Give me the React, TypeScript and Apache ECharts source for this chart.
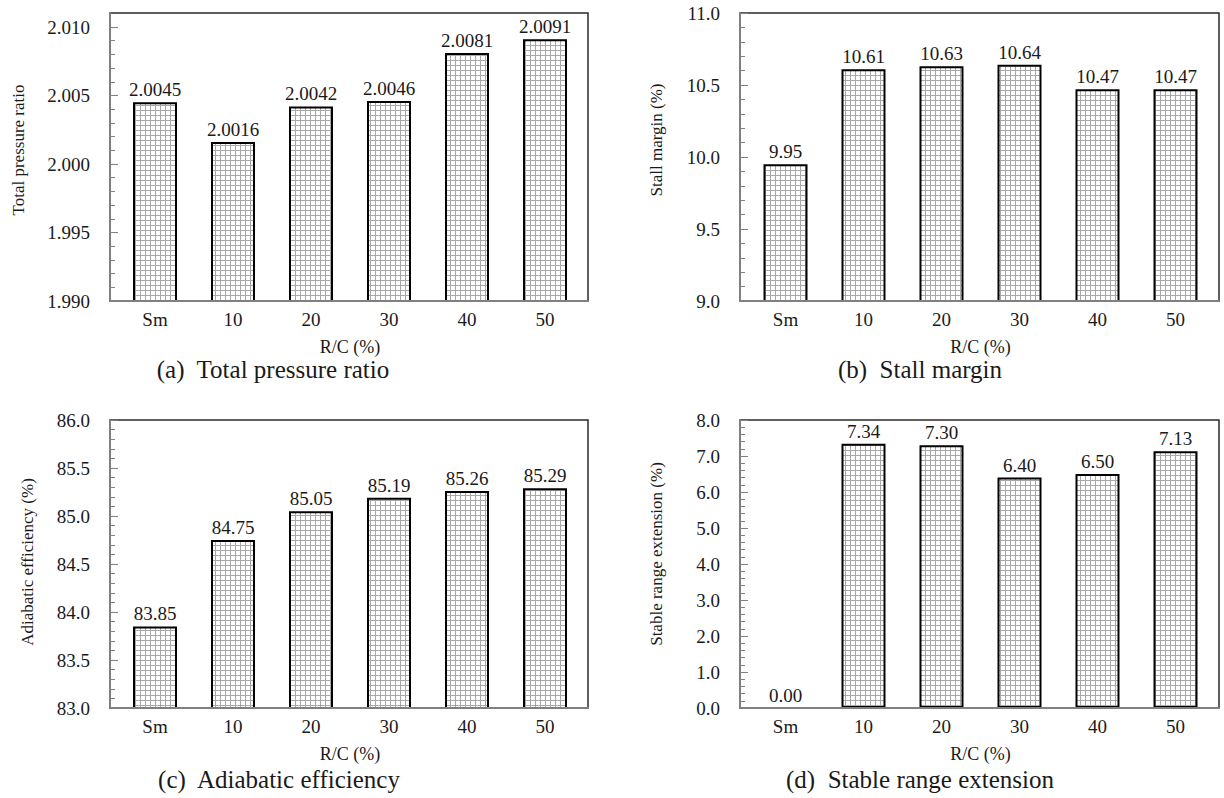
import React, { useEffect, useRef } from "react";
import * as echarts from "echarts";

// ---------- data ----------
const categories = ["Sm", "10", "20", "30", "40", "50"];
const pressureRatio = [2.0045, 2.0016, 2.0042, 2.0046, 2.0081, 2.0091];
const stallMargin = [9.95, 10.61, 10.63, 10.64, 10.47, 10.47];
const adiabaticEfficiency = [83.85, 84.75, 85.05, 85.19, 85.26, 85.29];
const stableRangeExtension = [0.0, 7.34, 7.3, 6.4, 6.5, 7.13];

// axis ranges: [min, max, interval]
const pressureAxis = [1.99, 2.01, 0.005];
const stallAxis = [9.0, 11.0, 0.5];
const efficiencyAxis = [83.0, 86.0, 0.5];
const rangeAxis = [0.0, 8.0, 1.0];

const yNames = [
  "Total pressure ratio",
  "Stall margin (%)",
  "Adiabatic efficiency (%)",
  "Stable range extension (%)",
];
const captions = [
  "(a)  Total pressure ratio",
  "(b)  Stall margin",
  "(c)  Adiabatic efficiency",
  "(d)  Stable range extension",
];
const xName = "R/C (%)";

const FONT = "'Liberation Serif', 'Times New Roman', serif";
const TEXT = "#1a1a1a";
const AXIS_GRAY = "#808080";

export default function App() {
  const ref = useRef<HTMLDivElement>(null);

  useEffect(() => {
    if (!ref.current) return;
    const chart = echarts.init(ref.current, undefined, { renderer: "svg" });

    const tile = document.createElement("canvas");
    tile.width = 5;
    tile.height = 5;
    const ctx = tile.getContext("2d")!;
    ctx.fillStyle = "#ffffff";
    ctx.fillRect(0, 0, 5, 5);
    ctx.fillStyle = "#a8a8a8";
    ctx.fillRect(0, 0, 5, 1);
    ctx.fillRect(0, 0, 1, 5);

    const panels = [
      { values: pressureRatio, axis: pressureAxis, yDec: 3, lDec: 4 },
      { values: stallMargin, axis: stallAxis, yDec: 1, lDec: 2 },
      { values: adiabaticEfficiency, axis: efficiencyAxis, yDec: 1, lDec: 2 },
      { values: stableRangeExtension, axis: rangeAxis, yDec: 1, lDec: 2 },
    ];

    const frames = [
      { left: 110, top: 13, width: 478, height: 288 },
      { left: 740, top: 13, width: 479, height: 288 },
      { left: 110, top: 420, width: 478, height: 288 },
      { left: 740, top: 420, width: 479, height: 288 },
    ];
    const plots = [
      { left: 116, top: 27, width: 468, height: 274, off: 6 },
      { left: 746.5, top: 13, width: 468, height: 288, off: 6.5 },
      { left: 116, top: 420, width: 468, height: 288, off: 6 },
      { left: 746.5, top: 420, width: 468, height: 288, off: 6.5 },
    ];
    const nameCenters = [
      [18, 150],
      [656, 140],
      [27, 562],
      [656, 554],
    ];
    const captionCenters = [
      [273, 369],
      [920, 369],
      [279, 779],
      [920, 779],
    ];

    const grid: any[] = [];
    const xAxis: any[] = [];
    const yAxis: any[] = [];
    const series: any[] = [];
    const graphic: any[] = [];

    frames.forEach((f) => {
      grid.push({
        ...f,
        show: true,
        borderColor: "#2a2a2a",
        borderWidth: 1.5,
        backgroundColor: "transparent",
        containLabel: false,
      });
    });
    plots.forEach((p) => {
      grid.push({
        left: p.left,
        top: p.top,
        width: p.width,
        height: p.height,
        containLabel: false,
      });
    });

    // frame axes (lines only), drawn above the bars
    frames.forEach((_, i) => {
      xAxis.push({
        gridIndex: i,
        type: "value",
        min: 0,
        max: 1,
        z: 10,
        axisLine: { show: true, onZero: false, lineStyle: { color: AXIS_GRAY, width: 2 } },
        axisTick: { show: false },
        axisLabel: { show: false },
        splitLine: { show: false },
      });
      yAxis.push({
        gridIndex: i,
        type: "value",
        min: 0,
        max: 1,
        z: 10,
        axisLine: { show: true, onZero: false, lineStyle: { color: AXIS_GRAY, width: 2 } },
        axisTick: { show: false },
        axisLabel: { show: false },
        splitLine: { show: false },
      });
    });

    // plot axes
    panels.forEach((pn, i) => {
      const gi = 4 + i;
      const [mn, mx, iv] = pn.axis;
      xAxis.push({
        gridIndex: gi,
        type: "category",
        data: categories,
        boundaryGap: true,
        axisLine: { show: false },
        axisTick: { show: false },
        axisLabel: {
          margin: 9,
          color: TEXT,
          fontFamily: FONT,
          fontSize: 19,
        },
        name: xName,
        nameLocation: "middle",
        nameGap: 37,
        nameTextStyle: { color: TEXT, fontFamily: FONT, fontSize: 18 },
        splitLine: { show: false },
      });
      yAxis.push({
        gridIndex: gi,
        type: "value",
        min: mn,
        max: mx,
        interval: iv,
        offset: plots[i].off,
        axisLine: { show: false },
        axisTick: {
          show: true,
          inside: true,
          length: 8,
          lineStyle: { color: AXIS_GRAY, width: 1 },
        },
        minorTick: {
          show: true,
          splitNumber: 5,
          length: 5,
          lineStyle: { color: AXIS_GRAY, width: 1 },
        },
        axisLabel: {
          margin: 20,
          color: TEXT,
          fontFamily: FONT,
          fontSize: 19,
          formatter: (v: number) => v.toFixed(pn.yDec),
        },
        splitLine: { show: false },
        minorSplitLine: { show: false },
      });
      series.push({
        type: "bar",
        xAxisIndex: gi,
        yAxisIndex: gi,
        barWidth: 44,
        data: pn.values.map((v) =>
          v === 0 ? { value: v, itemStyle: { borderWidth: 0 } } : v
        ),
        itemStyle: {
          color: { image: tile, repeat: "repeat" },
          borderColor: "#000000",
          borderWidth: 2,
        },
        label: {
          show: true,
          position: "top",
          distance: 3,
          color: TEXT,
          fontFamily: FONT,
          fontSize: 19,
          formatter: (p: any) => Number(p.value).toFixed(pn.lDec),
        },
      });

      graphic.push({
        type: "text",
        x: nameCenters[i][0],
        y: nameCenters[i][1],
        rotation: Math.PI / 2,
        style: {
          text: yNames[i],
          textAlign: "center",
          textVerticalAlign: "middle",
          verticalAlign: "middle",
          fill: TEXT,
          fontFamily: FONT,
          fontSize: 17,
        },
      });
      graphic.push({
        type: "text",
        x: captionCenters[i][0],
        y: captionCenters[i][1],
        style: {
          text: captions[i],
          textAlign: "center",
          textVerticalAlign: "middle",
          verticalAlign: "middle",
          fill: TEXT,
          fontFamily: FONT,
          fontSize: 25,
        },
      });
    });

    chart.setOption({
      animation: false,
      backgroundColor: "#ffffff",
      grid,
      xAxis,
      yAxis,
      series,
      graphic,
    });

    return () => {
      chart.dispose();
    };
  }, []);

  return (
    <div
      ref={ref}
      style={{ position: "fixed", left: 0, top: 0, width: 1224, height: 798 }}
    />
  );
}
